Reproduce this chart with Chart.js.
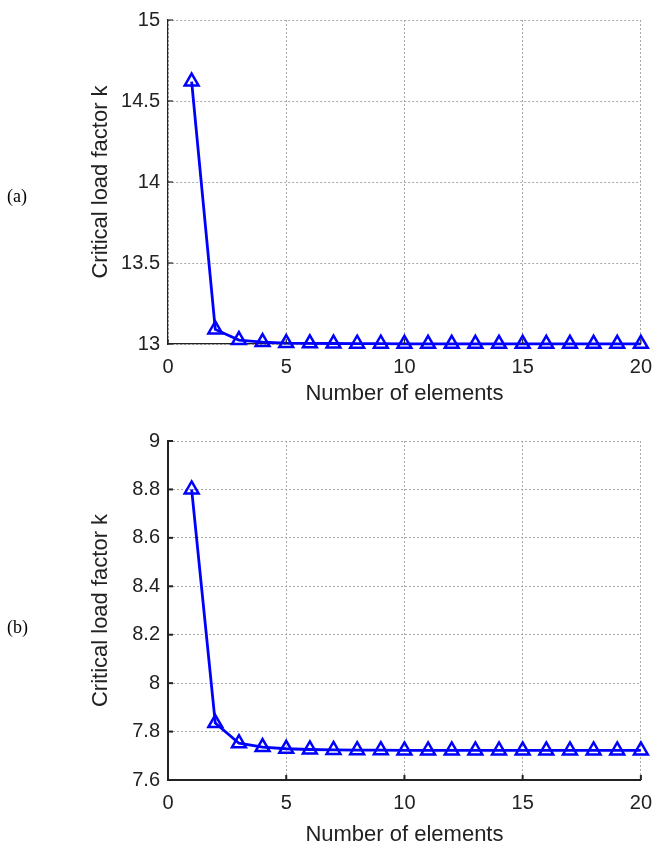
<!DOCTYPE html>
<html>
<head>
<meta charset="utf-8">
<script src="https://cdn.jsdelivr.net/npm/chart.js@4.4.1/dist/chart.umd.min.js"></script>
<style>
	html, body { margin: 0; padding: 0; background: #ffffff; }
	#wrap { position: relative; width: 663px; height: 848px; overflow: hidden; }
	canvas { position: absolute; left: 0; }
	.tag { position: absolute; left: 7px; font-family: "Liberation Serif", "Times New Roman", serif; font-size: 18px; color: #000; }
</style>
</head>
<body>
<div id="wrap">
	<canvas id="chartA" width="663" height="410" style="top:0px"></canvas>
	<canvas id="chartB" width="663" height="438" style="top:410px"></canvas>
	<div class="tag" style="top:186px">(a)</div>
	<div class="tag" style="top:617px">(b)</div>
</div>
<script>
// number of elements used in the mesh
const nElements = [1, 2, 3, 4, 5, 6, 7, 8, 9, 10, 11, 12, 13, 14, 15, 16, 17, 18, 19, 20];
// critical load factor k, case (a)
const loadA = [14.62, 13.09, 13.024, 13.012, 13.006, 13.004, 13.003, 13.002, 13.002, 13.001,
	13.001, 13.001, 13.001, 13.001, 13.001, 13.001, 13.001, 13.001, 13.001, 13.001];
// critical load factor k, case (b)
const loadB = [8.80, 7.835, 7.752, 7.736, 7.729, 7.726, 7.724, 7.723, 7.723, 7.722,
	7.722, 7.722, 7.722, 7.722, 7.722, 7.722, 7.722, 7.722, 7.722, 7.722];

const xLabel = 'Number of elements';
const yLabel = 'Critical load factor k';

const FONT = '"Liberation Sans", Arial, Helvetica, sans-serif';
const GRID = '#a8a8a8';

// 内向きの目盛り線（MATLAB風）
const innerTicks = {
	id: 'innerTicks',
	afterDatasetsDraw(chart, args, opts) {
		const ctx = chart.ctx;
		const area = chart.chartArea;
		const len = 5;
		ctx.save();
		ctx.strokeStyle = '#222';
		ctx.lineWidth = opts.width || 1;
		const xs = chart.scales.x;
		xs.ticks.forEach((t, i) => {
			const px = xs.getPixelForTick(i);
			ctx.beginPath();
			ctx.moveTo(px, area.bottom);
			ctx.lineTo(px, area.bottom - len);
			ctx.stroke();
		});
		const ys = chart.scales.y;
		ys.ticks.forEach((t, i) => {
			const py = ys.getPixelForTick(i);
			ctx.beginPath();
			ctx.moveTo(area.left, py);
			ctx.lineTo(area.left + len, py);
			ctx.stroke();
		});
		ctx.restore();
	}
};

// 目盛りラベル：末尾の0を付けない
function fmt(v) {
	return String(Number(v.toFixed(2)));
}

function makeChart(id, values, cfg) {
	const pts = nElements.map((n, i) => ({ x: n, y: values[i] }));
	return new Chart(document.getElementById(id), {
		type: 'line',
		data: {
			datasets: [{
				data: pts,
				borderColor: '#0000ff',
				borderWidth: 2.8,
				tension: 0,
				pointStyle: 'triangle',
				pointRadius: 8,
				pointBorderWidth: 2.5,
				pointBorderColor: '#0000ff',
				pointBackgroundColor: 'rgba(0,0,0,0)',
				clip: false
			}]
		},
		options: {
			responsive: false,
			animation: false,
			devicePixelRatio: 1,
			layout: { padding: { top: cfg.top, right: cfg.right, left: 0, bottom: 0 } },
			plugins: {
				legend: { display: false },
				tooltip: { enabled: false },
				innerTicks: { width: cfg.axisWidth }
			},
			scales: {
				x: {
					type: 'linear',
					min: 0, max: 20,
					afterFit: s => { s.height = cfg.xHeight; },
					ticks: { stepSize: 5, padding: 11, color: '#222', font: { family: FONT, size: 20 }, callback: fmt },
					grid: { color: GRID, lineWidth: 1, drawTicks: false },
					border: { display: true, color: '#222', width: cfg.axisWidth, dash: [2, 2] },
					title: { display: true, text: xLabel, color: '#222', font: { family: FONT, size: 22 }, padding: { top: 0, bottom: cfg.xTitlePad } }
				},
				y: {
					min: cfg.yMin, max: cfg.yMax,
					afterFit: s => { s.width = 168; },
					ticks: { stepSize: cfg.yStep, padding: 8, color: '#222', font: { family: FONT, size: 20 }, callback: fmt },
					grid: { color: GRID, lineWidth: 1, drawTicks: false },
					border: { display: true, color: '#222', width: cfg.axisWidth, dash: [2, 2] },
					title: { display: true, text: yLabel, color: '#222', font: { family: FONT, size: 22 }, padding: { top: 88, bottom: 0 } }
				}
			}
		},
		plugins: [innerTicks]
	});
}

makeChart('chartA', loadA, {
	top: 15, right: 11, xHeight: 66, xTitlePad: 3,
	yMin: 13, yMax: 15, yStep: 0.5, axisWidth: 1.2
});
makeChart('chartB', loadB, {
	top: 31, right: 12, xHeight: 68, xTitlePad: 0,
	yMin: 7.6, yMax: 9, yStep: 0.2, axisWidth: 2
});
</script>
</body>
</html>
